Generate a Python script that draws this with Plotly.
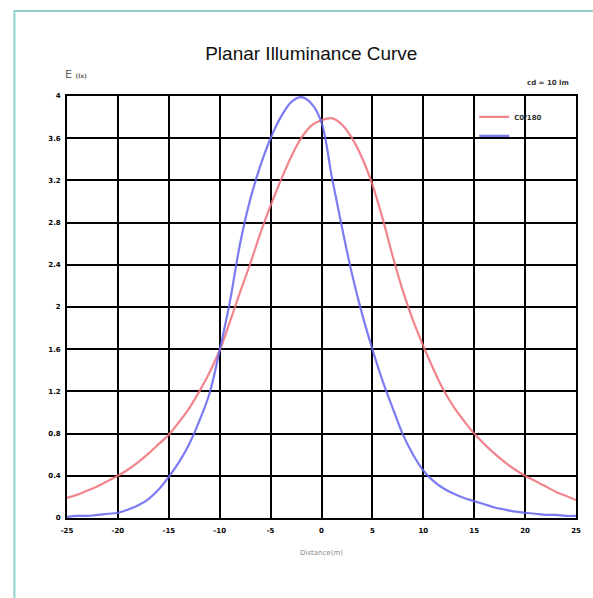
import plotly.graph_objects as go
# ----------------------------------------------------------------------------------------------------------------------

# Distancia (m)
distance = list(range(-25, 26))

# Curva C0/180 (lx)
c0_180 = [0.19, 0.22, 0.26, 0.30, 0.35, 0.40, 0.46, 0.53, 0.61, 0.70,
          0.79, 0.91, 1.04, 1.20, 1.38, 1.59, 1.86, 2.14, 2.41, 2.70,
          2.96, 3.20, 3.42, 3.60, 3.72, 3.77, 3.79, 3.73, 3.60, 3.41,
          3.16, 2.84, 2.48, 2.15, 1.87, 1.63, 1.41, 1.21, 1.05, 0.92,
          0.80, 0.70, 0.61, 0.53, 0.46, 0.40, 0.35, 0.30, 0.25, 0.21,
          0.17]

# Curva C90/270 (lx)
c90_270 = [0.01, 0.02, 0.02, 0.03, 0.04, 0.05, 0.08, 0.12, 0.18, 0.27,
           0.39, 0.53, 0.70, 0.92, 1.18, 1.59, 2.05, 2.60, 3.02, 3.34,
           3.60, 3.80, 3.94, 3.99, 3.93, 3.75, 3.24, 2.76, 2.31, 1.93,
           1.60, 1.30, 1.04, 0.79, 0.60, 0.45, 0.35, 0.28, 0.23, 0.19,
           0.16, 0.13, 0.10, 0.08, 0.06, 0.05, 0.04, 0.03, 0.03, 0.02,
           0.02]

x_ticks = [-25, -20, -15, -10, -5, 0, 5, 10, 15, 20, 25]
y_ticks = [0, 0.4, 0.8, 1.2, 1.6, 2, 2.4, 2.8, 3.2, 3.6, 4]
y_labels = ['0', '0.4', '0.8', '1.2', '1.6', '2', '2.4', '2.8', '3.2', '3.6', '4']

fig = go.Figure()

fig.add_trace(go.Scatter(x=distance, y=c0_180, mode='lines', name='C0/180',
                         line=dict(color='rgba(238,110,120,0.85)', width=2.2, shape='spline')))
fig.add_trace(go.Scatter(x=distance, y=c90_270, mode='lines', name=' ',
                         line=dict(color='rgba(100,100,240,0.85)', width=2.2, shape='spline')))

tick_font = dict(family='DejaVu Sans', size=7, color='black', weight='bold')

fig.update_xaxes(range=[-25, 25], tickvals=x_ticks, ticktext=[str(v) for v in x_ticks],
                 showgrid=True, gridcolor='black', gridwidth=1.5,
                 showline=True, linewidth=1.8, linecolor='black', mirror=True,
                 zeroline=False, ticks='outside', ticklen=5, tickcolor='rgba(0,0,0,0)',
                 tickfont=tick_font,
                 title=dict(text='Distance(m)', standoff=16,
                            font=dict(family='DejaVu Sans', size=7, color='#888')))
fig.update_yaxes(range=[0, 4], tickvals=y_ticks, ticktext=y_labels,
                 showgrid=True, gridcolor='black', gridwidth=1.5,
                 showline=True, linewidth=1.8, linecolor='black', mirror=True,
                 zeroline=False, ticks='outside', ticklen=3, tickcolor='rgba(0,0,0,0)',
                 tickfont=tick_font)

fig.update_layout(
    width=593, height=598,
    margin=dict(l=67, r=13, t=96, b=80),
    paper_bgcolor='white', plot_bgcolor='white',
    title=dict(text='Planar Illuminance Curve', x=0.48, xref='paper', xanchor='center',
               y=0.911, yanchor='middle',
               font=dict(family='Liberation Sans', size=19, color='#111')),
    legend=dict(x=0.80, y=0.985, xanchor='left', yanchor='top', bgcolor='rgba(0,0,0,0)',
                font=dict(family='DejaVu Sans', size=7, color='#333', weight='bold'),
                itemwidth=30, tracegroupgap=0),
    showlegend=True,
)

# Marco verde azulado (solo se ven los bordes superior e izquierdo)
fig.add_shape(type='rect', xref='paper', yref='paper',
              x0=-0.1033, x1=1.2, y0=-0.25, y1=1.2014,
              line=dict(color='#8fd3cc', width=2), fillcolor='rgba(0,0,0,0)', layer='below')

fig.add_annotation(xref='paper', yref='paper', x=-0.008, y=1.05, xanchor='left', yanchor='middle',
                   text="E <span style='font-size:6px'><b>(lx)</b></span>", showarrow=False,
                   font=dict(family='DejaVu Sans', size=11, color='#666'))
fig.add_annotation(xref='paper', yref='paper', x=0.99, y=1.03, xanchor='right', yanchor='middle',
                   text='<b>cd = 10 lm</b>', showarrow=False,
                   font=dict(family='DejaVu Sans', size=7, color='#333'))

# quitar el margen de la pagina para que la figura ocupe toda la ventana
fig.write_html("out.html", config={'displayModeBar': False},
               post_script="document.body.style.margin='0';document.body.style.overflow='hidden';")
